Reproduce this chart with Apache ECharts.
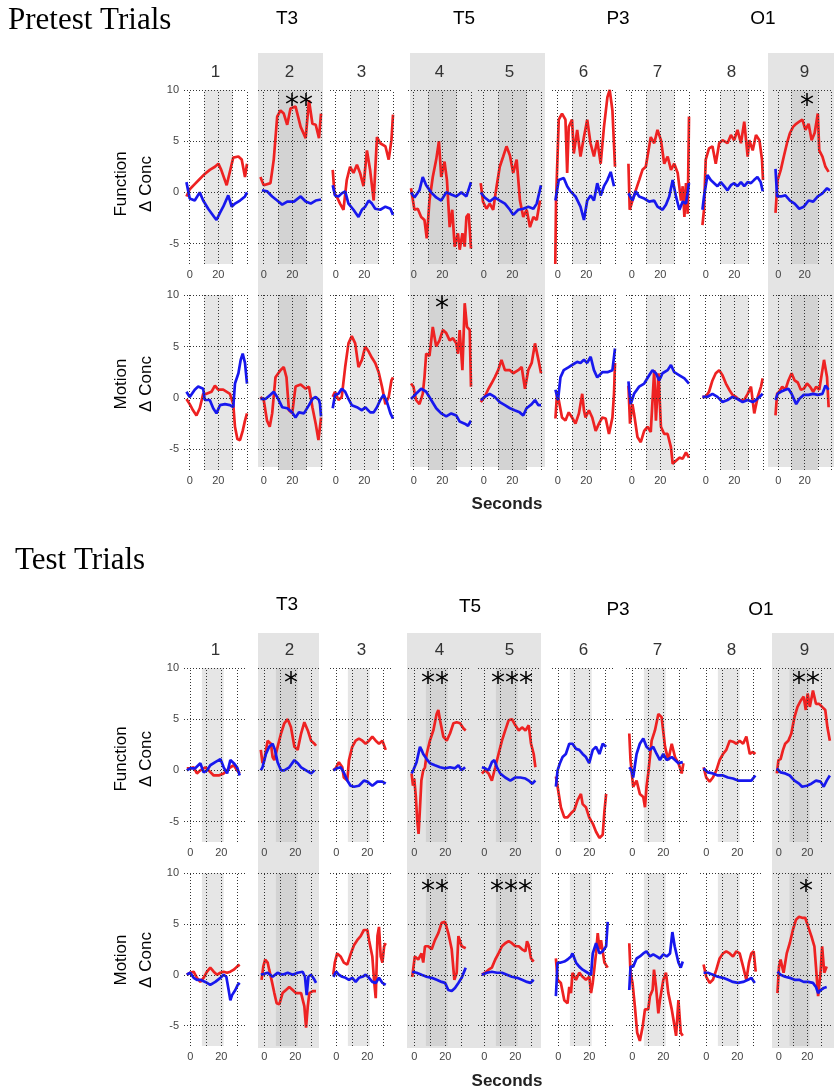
<!DOCTYPE html>
<html><head><meta charset="utf-8">
<script src="https://cdn.jsdelivr.net/npm/echarts@6/dist/echarts.min.js"></script>
<style>html,body{margin:0;padding:0;background:#fff}#c{width:834px;height:1091px}</style>
</head><body><div id="c"></div>
<script>
// ---------- categories / labels ----------
const CHANNELS = ['1','2','3','4','5','6','7','8','9'];
const GROUP_LABELS = ['T3','T5','P3','O1'];
const SECTION_TITLES = ['Pretest Trials','Test Trials'];
const ROW_NAMES = [['Function','\u0394 Conc'],['Motion','\u0394 Conc']];
const X_AXIS_NAME = 'Seconds';
const X_LABELS = [0, 20];
const Y_LABELS = [-5, 0, 5, 10];
const Y_MIN = -7, Y_MAX = 10;
const PRE_X = [-4, 40], TEST_X = [-4, 36.5];
const PRE_VGRID = [0, 10, 20, 30, 40], TEST_VGRID = [0, 10, 20, 30];
const SHADE_PRE = [10, 30], SHADE_TEST = [7.5, 21.5];
const HIGHLIGHT_COLS = [1, 3, 4, 8];
// significance marks: [row, col, text]
const SIGNIF = [[0,1,'**'],[0,8,'*'],[1,3,'*'],[2,1,'*'],[2,3,'**'],[2,4,'***'],[2,8,'**'],[3,3,'**'],[3,4,'***'],[3,8,'*']];

// ---------- series values [seconds, delta conc] ----------
const PRE_FUNC_RED = [
 [[-2.3,-0.4],[0,0.3],[3.5,0.8],[7,1.3],[10.5,1.8],[14,2.2],[17.6,2.5],[20,2.8],[22,2.2],[25.8,0.7],[30.4,3.4],[34,3.5],[36.3,3.2],[38.6,1.5],[40,2.8]],
 [[-2.3,1.5],[0,0.7],[4.7,0.9],[7,3.2],[9.4,7.4],[11.7,8],[14,7.7],[16.4,6.6],[18.7,8.2],[22.2,8.4],[25.8,6.4],[29.3,5.3],[31.6,9],[34,6.7],[36.3,6.6],[38.6,5.3],[40,7.7]],
 [[-2.1,2.2],[-0.9,-0.1],[0.7,-0.4],[3,-1.1],[5.4,-1.7],[7.7,1.2],[10,2.5],[12.4,1.9],[14.8,2.7],[17,1.9],[19.4,0.6],[21.8,4.1],[24,2.2],[26.5,-0.8],[28.8,5.4],[31.1,4.8],[34.7,4.5],[37,3.2],[38.9,5.1],[40,7.6]],
 [[-1.9,0.4],[0.5,-1.7],[2.8,-1.6],[5.2,-2.4],[7.5,-2.7],[9.1,-4.5],[11,-0.8],[13.3,1.5],[15.7,3.2],[17.6,5],[19.2,1.5],[21.5,3],[23.2,1.2],[25.1,-3.4],[26.9,-1.7],[28.6,-5.3],[30.9,-4],[32.1,-5.6],[34,-4],[35.6,-5.3],[36.8,-2.4],[38.4,-2.1],[40,-5.5]],
 [[-2.1,0.9],[-0.5,-0.9],[1.9,-1.6],[4.2,-1.1],[6.6,-1.7],[8.9,0.5],[11.2,2.5],[13.6,3.5],[15.9,4.5],[18.3,3.6],[20.6,1.9],[23,3.2],[25.3,-0.8],[27.6,-2.4],[30,-1.7],[32.3,-3.4],[34.7,-2.4],[37,-2.7],[39.3,-0.8]],
 [[-1.7,-7],[-1.2,-1],[0.7,7.1],[3,7.7],[5.4,7.1],[6.6,1.9],[7.7,6.4],[10,7.1],[11.2,3.8],[13.6,6.1],[15.9,3.5],[18.3,5.4],[20.6,7.1],[22.9,4.8],[25.3,3.5],[27.6,5.1],[30,2.8],[32.3,6.4],[34.7,9.3],[36.3,10],[38.2,8],[40,2.5]],
 [[-2.3,2.8],[-1.4,-1.7],[0.5,-0.8],[2.8,0.2],[5.2,1.2],[7.5,2.2],[9.8,2.5],[11,3.5],[13.3,5.4],[15.7,4.8],[18,6.1],[20.4,5.1],[22.7,2.8],[25.1,3.5],[27.4,2.2],[29.7,2.8],[32.1,1.9],[34.4,-0.8],[35.6,0.6],[36.8,-2.4],[37.9,0.9],[39.1,-2.1],[40,7.4]],
 [[-2.3,-3.2],[-1.2,-1.7],[0,3.2],[2.3,4.3],[4.7,4.5],[7,2.8],[9.4,4.8],[11.7,5.1],[15.2,4.8],[17.6,5.6],[19.9,5.1],[22.2,6.1],[24.6,4.8],[26.9,6.9],[29.3,3.5],[30.4,5.1],[32.8,4.1],[35.1,5.6],[37.5,5.1],[39.3,3.2],[40,1.2]],
 [[-2.1,-2],[-0.5,1.2],[1.9,2.2],[4.2,3.5],[6.6,4.8],[8.9,5.8],[11.2,6.4],[13.6,6.7],[15.9,6.9],[18.3,7.1],[20.6,6.1],[23,6.7],[25.3,5.1],[27.6,5.8],[30,7.7],[31.1,4.1],[33.5,3.5],[35.8,2.5],[38.2,2.0]]
];
const PRE_FUNC_BLUE = [
 [[-2.3,1.0],[0,-0.6],[3.5,-0.8],[7,0],[9.4,-0.8],[12.9,-1.6],[17.6,-2.5],[18.7,-2.7],[21.1,-2],[23.4,-1.4],[26.9,-0.3],[29.3,-1.4],[31.6,-1.1],[35.1,-0.8],[38.6,-0.4],[40,0]],
 [[-1.2,0.2],[2.3,0.1],[5.9,-0.4],[9.4,-0.8],[12.9,-1.2],[16.4,-0.9],[21.1,-0.9],[25.8,-0.4],[29.3,-0.9],[32.8,-1.1],[36.3,-0.8],[40,-0.7]],
 [[-2.1,0.7],[-0.5,-0.3],[1.9,-0.4],[4.2,-0.1],[6.6,0.1],[8.9,-1.1],[12.4,-1.7],[15.9,-2.4],[18.3,-1.7],[20.6,-1.4],[23,-0.8],[25.3,-1.1],[27.6,-1.6],[31.1,-1.7],[34.7,-1.4],[38.2,-1.6],[40,-2.2]],
 [[-1.9,0],[0.5,-0.5],[4,0.2],[6.3,1.5],[8.7,0.7],[12.2,0],[15.7,-0.5],[19.2,-0.8],[22.7,0],[26.2,-0.2],[29.7,-0.4],[33.3,0],[36.8,-0.4],[40,1.0]],
 [[-2.1,0],[0.7,-0.5],[4.2,-0.9],[7.7,-0.5],[11.2,-0.8],[14.8,-1.1],[18.3,-1.7],[20.6,-2.2],[24.1,-1.7],[27.6,-1.6],[31.1,-1.4],[34.7,-1.6],[37,-1.1],[40,0.7]],
 [[-1.6,-0.8],[0.7,1.2],[4.2,1.4],[6.6,0.6],[8.9,0.1],[12.4,-0.4],[15.9,-1.4],[18.3,-2.7],[20.6,-0.8],[23,-0.3],[25.3,-0.8],[27.6,0.9],[30,-0.3],[32.3,0.6],[34.7,1.2],[37,2.0],[39.3,0.6]],
 [[-2.3,-0.1],[0.5,-0.8],[2.8,0.1],[5.2,-0.4],[8.7,-0.6],[12.2,-0.9],[15.7,-0.8],[18,-1.4],[21.5,-1.7],[23.9,-1.2],[26.2,-0.4],[28.6,1.2],[30.9,-0.4],[33.3,-1.7],[35.6,-0.9],[37.9,-1.1],[40,0.9]],
 [[-2.3,-1.7],[-1.2,-0.4],[1.2,1.7],[3.5,1.2],[5.9,0.9],[8.2,0.6],[10.5,1.0],[12.9,0.6],[15.2,0.2],[17.6,0.7],[19.9,0.9],[22.2,0.6],[24.6,1.0],[26.9,0.6],[29.3,1.0],[31.6,0.9],[33.7,1.2],[36.1,1.5],[38.4,1.0],[39.8,0.1]],
 [[-2.1,2.3],[-0.9,-0.4],[1.9,-0.4],[5.4,-0.3],[8.9,-0.8],[12.4,-1.1],[15.9,-1.6],[19.4,-1.4],[23,-0.8],[26.5,-0.9],[30,-0.4],[33.5,-0.1],[37,0.4],[39.3,0.2]]
];
const PRE_MOT_RED = [
 [[-2.3,-0.1],[0,-0.6],[2.3,-1.2],[4.7,-1.7],[7,-1.0],[9.4,0.4],[11.7,0.4],[15.2,0.6],[17.6,1.2],[19.9,0.8],[23.4,0.8],[28.1,0.4],[30.4,-0.6],[31.6,-2.8],[33.3,-4],[35.1,-4.1],[37,-3.2],[38.6,-2.2],[40,-1.5]],
 [[-2.3,0.1],[0,-0.2],[2.3,-2.2],[4.2,-2.8],[5.9,-1.5],[8.2,2.0],[11.7,2.7],[14,3.0],[15.9,2.0],[17.6,-1.2],[19.9,-1.5],[22.2,1.1],[25.8,1.3],[29.3,0.9],[31.6,1.1],[34,-0.9],[36.3,-2.5],[38.2,-4.1],[39.8,-2.2],[40,-1.9]],
 [[-2.1,0.1],[-0.5,0.6],[1.9,-0.2],[4.2,0.1],[6.6,3.0],[8.9,5.3],[11.2,6.0],[13.6,5.3],[15.9,3.0],[18.3,3.7],[20.6,5.0],[23,4.5],[25.3,3.9],[27.6,3.4],[30,2.5],[32.3,1.1],[34.7,-0.6],[37,0.1],[38.9,1.7],[40,2.0]],
 [[-1.9,1.4],[-0.2,1.1],[1.6,-0.2],[4,-0.6],[6.3,0.4],[7.5,2.0],[8.7,4.3],[11,4.1],[13.3,6.9],[15.7,5.0],[18,5.6],[20.4,6.6],[22.7,6.3],[25.1,5.6],[27.4,5.8],[29.7,5.3],[30.9,4.3],[32.1,6.6],[34,2.7],[35.6,9.2],[37.2,6.9],[39.1,6.6],[40,1.1]],
 [[-2.1,-0.4],[0.7,0.1],[3,0.8],[5.4,1.4],[7.7,2.0],[10.1,2.7],[12.4,3.7],[14.8,2.7],[18.3,2.7],[20.6,2.4],[24.1,2.7],[26.5,3.0],[28.8,0.9],[31.1,2.7],[33.5,3.4],[35.8,5.3],[38.2,3.7],[40,2.4]],
 [[-1.6,-2.0],[-0.5,0.4],[0.7,-0.2],[3,-1.9],[5.4,-2.2],[7.7,-1.4],[10,-1.9],[12.4,-2.5],[14.8,-1.5],[17.1,0.4],[18.3,-1.2],[19.4,-1.9],[21.8,-1.2],[24.1,-1.9],[26.5,-3.2],[28.8,-2.5],[31.1,-1.9],[33.5,-2.0],[35.8,-3.5],[38.2,-1.9],[39.3,0.4],[40,3.4]],
 [[-2.3,1.2],[-1.2,-2.5],[0.5,-0.6],[1.6,-1.5],[4,-3.8],[6.3,-4.3],[8.7,-3.2],[11,-2.8],[13.3,-3.3],[15.7,2.7],[16.9,-2.2],[18.7,2.4],[20.4,-2.8],[22.7,-3.5],[25.1,-3.5],[27.4,-4.8],[28.6,-6.4],[30.9,-6.1],[33.3,-5.8],[35.6,-5.9],[37.9,-5.3],[40,-5.8]],
 [[-2.3,0.1],[0,0.1],[2.3,0.6],[4.7,1.7],[7,2.4],[9.4,2.7],[11.7,2.2],[14.1,1.4],[16.4,0.8],[18.7,0.3],[21.1,0.1],[23.4,-0.2],[26.9,-0.2],[29.3,0.4],[31.6,1.1],[33.9,-1.5],[36.3,0.1],[38.6,1.1],[39.8,1.9]],
 [[-2.1,-1.7],[-0.9,0.4],[0.7,0.6],[3,1.1],[5.4,0.8],[7.7,1.7],[10.1,2.4],[12.4,1.7],[14.8,1.5],[17.1,0.8],[19.4,0.9],[21.8,1.4],[24.1,1.1],[26.5,0.6],[28.8,1.1],[31.1,0.8],[34.7,3.7],[37,2.0],[38.2,-0.9]]
];
const PRE_MOT_BLUE = [
 [[-2.3,0.6],[0,0.1],[3.5,0.8],[5.9,1.1],[9.4,0.9],[10.5,-0.2],[14,-0.2],[16.4,-1.0],[18.7,-1.5],[21.1,-0.7],[24.6,-0.6],[28.1,-0.7],[30.4,-0.9],[31.6,1.4],[34,2.4],[35.6,3.7],[37,4.3],[38.6,3.4],[40,1.4]],
 [[-2.3,-0.1],[1.2,-0.1],[4.7,0.3],[7,0.6],[9.4,0.1],[12.9,-0.9],[16.4,-1.0],[19.9,-1.4],[22.2,-1.9],[24.6,-1.4],[28.1,-1.5],[31.6,-0.7],[34,-0.1],[36.3,0.1],[38.6,-0.2],[39.3,-0.6],[40,-1.8]],
 [[-2.1,-1.0],[-0.5,0.3],[1.9,0.4],[4.2,0.9],[6.6,0.6],[8.9,-0.1],[11.2,-0.7],[14.8,-0.9],[18.3,-1.2],[20.6,-0.9],[24.1,-1.4],[26.5,-1.4],[28.8,-0.9],[31.1,-0.2],[33.5,0.3],[35.8,-0.4],[38.2,-1.5],[40,-2.0]],
 [[-1.9,-0.1],[1.6,0.4],[5.2,0.9],[8.7,0.6],[12.2,-0.2],[15.7,-1.0],[19.2,-1.5],[22.7,-1.8],[26.2,-1.5],[29.7,-1.7],[32.1,-2.3],[35.6,-2.5],[37.9,-2.7],[40,-2.2]],
 [[-2.1,-0.2],[0.7,0.1],[4.2,0.4],[7.7,0.1],[11.2,-0.4],[14.8,-0.7],[18.3,-1.0],[21.5,-1.2],[25.1,-1.4],[27.6,-1.7],[29.9,-1.0],[33.5,-0.6],[35.8,-0.2],[38.2,-0.7],[40,-0.7]],
 [[-1.6,0.8],[0.2,-0.2],[1.9,2.0],[4.2,2.7],[7.7,3.0],[10,3.2],[13.6,3.5],[15.9,3.4],[18.3,3.7],[20.6,3.4],[23,4.0],[25.3,2.7],[27.6,2.0],[31.1,2.5],[34.7,2.5],[38.2,2.7],[40,4.8]],
 [[-2.3,1.6],[-0.7,-0.6],[1.6,0.4],[5.2,1.1],[8.7,1.4],[12.2,2.2],[14.5,2.7],[16.9,2.4],[19.2,1.7],[21.5,2.4],[25.1,2.7],[27.4,3.2],[29.7,2.5],[33.3,2.2],[36.8,1.9],[40,1.4]],
 [[-2.3,0.1],[1.2,0.1],[4.7,0.4],[8.2,0.1],[11.7,-0.4],[15.2,-0.2],[18.7,0.1],[22.2,-0.1],[25.8,-0.4],[29.3,-0.2],[32.8,-0.4],[35.1,-0.2],[37.5,0.1],[39.8,0.4]],
 [[-2.1,-0.2],[-0.5,0.4],[1.9,0.6],[5.4,0.8],[7.7,0.9],[10.1,0.4],[13.6,-0.6],[15.9,-0.1],[19.4,0.3],[22.9,0.3],[26.5,0.4],[30,0.3],[33.5,0.4],[35.8,1.2],[38.2,0.8]]
];
const TEST_FUNC_RED = [
 [[-2.2,0.2],[0,0.2],[2.2,0.3],[4.3,-0.3],[6.5,0],[9.7,0.3],[11.8,0],[15.1,-0.5],[18.3,-0.5],[21.5,-0.3],[23.7,0],[25.8,0.3],[28,0.5],[30.1,0],[31.8,-0.3]],
 [[-2.2,2.0],[-1.1,0.7],[0,1.0],[2.2,2.9],[4.3,2.6],[5.4,1.3],[6.5,1.0],[8.6,2.3],[10.8,3.6],[12.9,4.6],[15.1,5.0],[17.2,4.2],[19.4,2.3],[21.5,2.0],[23.7,3.6],[25.8,4.7],[28,3.9],[30.1,2.9],[32.3,2.6],[33.3,2.4]],
 [[-1.9,0],[-0.4,0.2],[1.7,0.8],[3.9,0.3],[4.9,-0.7],[7.1,-1.0],[8.2,1.0],[10.3,2.3],[12.5,2.9],[14.6,3.1],[16.8,2.9],[18.9,2.6],[21.1,2.9],[23.2,3.3],[25.4,2.9],[27.5,2.6],[29.7,2.9],[31.8,2.0]],
 [[-1.7,-0.3],[-0.8,-1.5],[0,-0.8],[1,-2.5],[2,-5],[2.8,-6.2],[3.6,-4],[4.6,-1],[5.8,0],[6.9,0.3],[8,1.6],[10.1,2.9],[12.3,3.9],[14.4,5.5],[15.5,5.9],[16.6,4.9],[18.7,3.3],[20.9,2.9],[23,3.6],[25.2,4.6],[27.3,4.7],[29.5,4.6],[31.6,4.1],[33.1,3.9]],
 [[-1.5,-0.3],[0.6,0],[2.8,-0.3],[4.9,-1.0],[7.1,0.3],[9.2,1.6],[11.4,2.9],[13.5,3.9],[15.7,4.9],[17.8,5.0],[20,4.4],[22.2,3.9],[24.3,4.2],[26.5,3.9],[28.6,4.4],[30.1,2.6],[31.8,1.6],[32.9,0.3]],
 [[-1.5,-0.6],[-0.4,-1.6],[1.7,-3.6],[3.9,-4.6],[6,-4.6],[8.2,-4.2],[10.3,-3.9],[12.5,-2.9],[14.6,-2.3],[15.7,-3.3],[17.8,-3.6],[19.9,-4.6],[22.2,-5.2],[24.3,-6.0],[26.5,-6.6],[28.6,-6.3],[29.7,-4.0],[30.8,-2.3]],
 [[-1.9,3.6],[-1.1,1.0],[0.6,-1.6],[2.8,-1.0],[4.9,-2.3],[7.1,-2.6],[8.2,-3.6],[9.2,-1.6],[10.3,-0.3],[12.5,2.9],[14.6,3.9],[16.8,5.5],[18.9,5.2],[21.1,2.3],[23.2,1.0],[25.4,2.6],[27.5,1.3],[29.7,0.7],[31.8,-0.3],[32.9,0.7]],
 [[-1.7,0.3],[0,-0.7],[2.2,-1.1],[4.3,-0.7],[6.5,0],[8.6,1.0],[10.8,1.6],[12.9,2.0],[15.1,2.9],[17.2,2.8],[19.4,2.6],[21.5,2.9],[23.7,2.6],[25.8,3.3],[28,1.6],[30.1,1.8],[31.6,1.6]],
 [[-1.3,-0.3],[-0.2,1.0],[1.3,1.1],[3,2.0],[4.5,2.6],[6.7,2.9],[8.8,3.6],[11,5.2],[13.1,6.2],[15.3,6.8],[17.4,7.2],[18.9,5.9],[20.2,7.5],[21.7,6.2],[23.9,7.8],[26,6.5],[28.2,6.5],[30.3,6.2],[32.5,5.9],[34,4.2],[35.7,2.9]]
];
const TEST_FUNC_BLUE = [
 [[-2.2,0],[0,0.2],[3.2,0.2],[6.5,0.7],[8.6,-0.2],[10.8,0],[12.9,0.5],[16.1,0.8],[19.4,1.1],[21.5,0.3],[23.7,-0.3],[25.8,1.0],[28,0.7],[30.1,0.3],[31.8,-0.5]],
 [[-2.2,0],[-1.1,0.3],[1.1,1.6],[3.2,2.3],[5.4,2.6],[6.9,2.0],[8.6,0.8],[10.8,0],[12.9,0],[16.1,0.3],[19.4,1.0],[21.5,0.7],[23.7,0.3],[26.9,0],[30.1,-0.3],[32.3,0]],
 [[-1.9,0],[0.6,0.2],[2.8,0.3],[4.9,-0.2],[7.1,-1.0],[9.2,-1.5],[11.4,-1.6],[14.6,-1.5],[17.8,-1.0],[20,-1.1],[23.2,-1.5],[26.5,-1.1],[29.7,-1.1],[31.8,-1.3]],
 [[-1.7,-0.3],[-0.6,0],[1.5,0.8],[3.7,2.3],[4.7,2.0],[5.8,1.6],[8,1.1],[10.1,0.7],[13.3,0.5],[16.6,0.3],[19.8,0.2],[23,0.3],[26.2,0.2],[28.4,0.5],[30.5,0],[32.7,0.3]],
 [[-1.5,0.3],[0.6,0.2],[2.8,0],[4.9,0.8],[6.5,1.0],[8.2,0.3],[10.3,-0.3],[13.5,-0.7],[16.8,-1.0],[20,-0.7],[23.2,-0.7],[26.5,-0.8],[28.6,-1.0],[30.8,-1.3],[32.9,-1.0]],
 [[-1.5,-1.6],[-0.4,0],[1.1,0.7],[2.8,1.3],[4.9,1.6],[7.1,2.6],[9.2,2.6],[11.4,2.1],[13.5,2.0],[15.7,1.6],[17.8,1.3],[19.9,0.7],[22.2,2.0],[24.3,2.3],[26.5,1.6],[28.6,2.6],[30.8,2.3]],
 [[-1.9,0.3],[-0.4,0],[0.6,-0.7],[2.8,1.6],[4.9,2.6],[7.1,3.1],[9.2,2.3],[11.4,2.0],[13.5,2.3],[15.7,1.6],[17.8,1.0],[20,1.6],[22.2,1.0],[25.4,1.3],[27.5,1.0],[29.7,0.7],[32.5,0.8]],
 [[-1.7,0.2],[1.1,-0.2],[4.3,-0.3],[7.5,-0.5],[10.8,-0.5],[14,-0.7],[17.2,-0.8],[20.4,-1.0],[23.7,-1.0],[26.9,-1.0],[29,-1.0],[31.6,-0.5]],
 [[-1.3,0.2],[1.3,-0.2],[4.5,-0.3],[7.7,-0.5],[11,-1.0],[14.2,-1.3],[16.3,-1.6],[19.6,-1.5],[22.8,-1.3],[26,-1.0],[29.2,-1.1],[31.4,-1.6],[33.5,-1.0],[35.7,-0.5]]
];
const TEST_MOT_RED = [
 [[-2.2,0],[0,0.2],[2.2,0.3],[4.3,-0.3],[6.5,-0.7],[8.6,-0.3],[10.8,0.3],[12.9,0.7],[15.1,0.3],[17.2,0],[19.4,0.2],[21.5,0.3],[23.7,0.2],[25.8,0.3],[28,0.5],[30.1,0.8],[31.8,1.0]],
 [[-1.7,-0.5],[-0.6,0.8],[0.6,1.5],[2.2,1.2],[3.2,0.5],[4.7,-0.5],[6.5,-1.8],[8,-2.8],[9.7,-2.9],[11.8,-1.8],[14,-1.5],[16.1,-1.2],[18.3,-1.5],[20.4,-1.8],[23.7,-1.8],[25.8,-3.1],[26.9,-5.2],[28,-3.1],[29,-1.8],[31.2,-1.6],[33.3,-1.6]],
 [[-1.9,0],[-0.9,1.2],[0.6,2.1],[2.8,1.8],[4.9,1.2],[7.1,1.0],[9.2,2.0],[11.4,2.9],[13.5,3.4],[15.7,3.8],[17.8,4.4],[20,4.4],[21.1,3.4],[23.2,1.8],[24.3,-0.5],[25.4,-2.3],[26.5,3.8],[27.5,4.7],[28.6,1.8],[29.7,1.2],[30.8,2.8],[31.8,3.1]],
 [[-1.3,-0.2],[0.4,1.8],[2.6,1.5],[4.7,2.1],[5.8,1.2],[6.9,2.8],[9,2.8],[11.2,2.5],[13.3,3.4],[15.5,4.1],[17.6,5.1],[19.8,5.2],[21.9,4.1],[24.1,2.5],[25.8,-0.5],[27.3,0.2],[28.4,3.8],[30.5,2.8],[33.1,2.6]],
 [[-1.5,0],[0.6,0.2],[2.8,0.5],[4.9,0.7],[7.1,1.5],[9.2,2.1],[11.4,2.8],[13.5,3.1],[15.7,3.3],[17.8,3.1],[20,2.8],[22.2,2.8],[24.3,2.5],[26.5,2.3],[27.5,3.3],[28.6,2.9],[30.1,1.6],[31.8,1.3]],
 [[-1.5,1.6],[-0.4,-0.5],[1.7,-0.8],[3.9,-2.5],[6,-2.8],[7.1,-1.2],[8.2,-1.8],[9.2,0.2],[11.4,-0.5],[13.5,0.2],[15.7,-0.2],[17.8,-0.5],[20,-0.2],[21.1,-1.8],[22.2,-0.8],[24.3,2.1],[25.4,4.1],[26.5,2.5],[27.5,3.4],[29.7,1.2],[31.8,0.7]],
 [[-1.9,3.1],[-1.1,0.2],[0.2,-0.8],[1.7,-3.1],[3.2,-5.7],[4.9,-6.5],[6.7,-5.1],[8.2,-3.4],[10.3,-3.4],[11.4,-2.1],[13.1,-1.5],[14,0.5],[15.3,-1.2],[16.8,-3.8],[17.8,-2.5],[20,-0.5],[21.7,0.2],[23.2,-1.8],[25.4,-3.4],[26.5,-4.4],[28.2,-6.0],[29.7,-2.5],[31.2,-5.7],[32.5,-6.0]],
 [[-1.7,1.0],[0,-0.2],[2.2,-0.8],[4.3,-0.5],[6.5,0.5],[8.6,1.6],[10.8,2.1],[12.9,2.3],[15.1,2.1],[17.2,1.8],[19.4,2.3],[21.5,2.1],[23.7,0.8],[25.8,-0.5],[27.5,1.2],[29,2.1],[30.5,2.3],[31.8,0.3]],
 [[-0.9,-1.8],[0.2,0.8],[1.3,1.5],[2.4,0.8],[3.4,0.2],[5.6,2.1],[7.7,3.1],[9.9,4.4],[12,5.4],[14.2,5.7],[16.3,5.6],[18.5,5.6],[20.6,4.7],[22.8,3.8],[24.9,2.8],[26,0.8],[27.5,-2.1],[29.2,0.2],[30.3,2.8],[31.8,0.2],[33.5,0.8]]
];
const TEST_MOT_BLUE = [
 [[-2.2,0],[0,0.2],[2.2,-0.3],[4.3,-0.5],[6.5,-0.5],[9.7,-0.7],[12.9,-1.0],[16.1,-0.7],[19.4,-0.3],[21.5,0],[23.2,-0.2],[24.7,-1.5],[25.8,-2.5],[26.9,-2.0],[29,-1.5],[30.5,-1.0],[31.8,-0.8]],
 [[-2.2,0],[2.2,0.2],[5.4,-0.2],[8.6,0.2],[11.8,0],[15.1,0.2],[18.3,0],[21.5,0.2],[24.7,0.3],[26.2,-0.2],[27.3,-2.0],[28.4,-0.2],[30.1,0],[32.3,-0.5],[33.3,-0.8]],
 [[-1.9,-0.2],[0,0.3],[1.7,0],[3.9,-0.2],[6,-0.3],[8.2,-0.5],[10.3,-0.3],[12.5,-0.7],[14.6,-0.3],[16.8,-0.2],[18.9,0],[21.1,-0.3],[23.2,-0.7],[25.4,-0.8],[27.5,-0.3],[29.7,-0.8],[31.8,-1.0]],
 [[-1.3,0.3],[1.5,0.2],[4.7,0],[8,-0.2],[11.2,-0.3],[14.4,-0.5],[17.6,-0.7],[19.8,-0.8],[21.9,-1.5],[24.1,-1.6],[26.2,-1.3],[28.4,-0.8],[30.5,-0.3],[33.1,0.7]],
 [[-1.5,0],[1.7,0.2],[4.9,0.3],[8.2,0.2],[11.4,0.2],[14.6,0],[17.8,-0.2],[21.1,-0.3],[24.3,-0.5],[27.5,-0.7],[29.7,-0.8],[31.8,-0.5]],
 [[-1.5,-2.1],[-0.4,1.2],[1.7,1.2],[3.9,1.3],[6,1.5],[8.2,1.8],[9.2,2.1],[11.4,1.2],[13.5,0.8],[15.7,0.5],[18.9,0.2],[21.1,0],[22.2,2.1],[24.3,3.1],[26.5,2.1],[28.6,2.3],[30.8,2.8],[31.8,5.2]],
 [[-1.9,-1.5],[-1.1,0.8],[0.6,0.8],[2.8,1.6],[4.9,1.8],[7.1,2.1],[9.2,2.3],[11.4,1.8],[13.5,2.0],[15.7,1.8],[17.8,1.6],[20,2.0],[22.2,1.8],[24.3,2.1],[25.8,4.2],[27.3,2.8],[29.7,1.2],[31.2,0.7],[32.5,1.3]],
 [[-1.7,0.2],[1.1,0.2],[4.3,0],[7.5,-0.2],[10.8,-0.3],[14,-0.5],[17.2,-0.7],[20.4,-0.8],[23.7,-0.7],[26.9,-0.5],[29,-0.3],[31.2,-0.8]],
 [[-0.9,0.3],[1.3,0],[4.5,-0.2],[7.7,-0.3],[11,-0.5],[14.2,-0.5],[17.4,-0.7],[20.6,-0.7],[23.9,-0.8],[26,-1.2],[27.5,-1.8],[29.2,-1.5],[31.4,-1.3],[33.5,-1.2]]
];

// ---------- layout (pixels) ----------
const FONT = '"Liberation Sans", Arial, sans-serif';
const SERIF = '"Liberation Serif", "Times New Roman", serif';
const COL_LEFT = [184, 258, 330, 408, 478, 552, 626, 700, 773];
const COL_W = 63;
const ROW_BOX = [{top:90,h:174},{top:295,h:175},{top:668,h:174},{top:873,h:173}];
const RED = '#ee2222', BLUE = '#1818ee';

const ROWDEFS = [
  {red: PRE_FUNC_RED, blue: PRE_FUNC_BLUE, x: PRE_X, vg: PRE_VGRID, shade: SHADE_PRE},
  {red: PRE_MOT_RED, blue: PRE_MOT_BLUE, x: PRE_X, vg: PRE_VGRID, shade: SHADE_PRE},
  {red: TEST_FUNC_RED, blue: TEST_FUNC_BLUE, x: TEST_X, vg: TEST_VGRID, shade: SHADE_TEST},
  {red: TEST_MOT_RED, blue: TEST_MOT_BLUE, x: TEST_X, vg: TEST_VGRID, shade: SHADE_TEST}
];

const grids = [], xAxes = [], yAxes = [], series = [];
ROWDEFS.forEach((rd, r) => {
  for (let c = 0; c < 9; c++) {
    const gi = grids.length;
    const hl = HIGHLIGHT_COLS.includes(c);
    grids.push({left: COL_LEFT[c], top: ROW_BOX[r].top, width: COL_W, height: ROW_BOX[r].h});
    xAxes.push({gridIndex: gi, type: 'value', min: rd.x[0], max: rd.x[1], interval: 1,
      axisLine: {show: false}, axisTick: {show: false}, splitLine: {show: false},
      axisLabel: {formatter: v => X_LABELS.includes(v) ? String(v) : '', color: '#444', fontSize: 11, margin: 5, fontFamily: FONT}});
    yAxes.push({gridIndex: gi, type: 'value', min: Y_MIN, max: Y_MAX, interval: 1,
      axisLine: {show: false}, axisTick: {show: false}, splitLine: {show: false},
      axisLabel: {show: c === 0, formatter: v => Y_LABELS.includes(v) ? String(v) : '', color: '#444', fontSize: 11, margin: 5, fontFamily: FONT}});
    series.push({type: 'line', xAxisIndex: gi, yAxisIndex: gi, data: [], silent: true, z: 1,
      markArea: {silent: true, itemStyle: {color: hl ? '#d3d3d3' : '#e6e6e6'}, data: [[{xAxis: rd.shade[0]}, {xAxis: rd.shade[1]}]]},
      markLine: {silent: true, symbol: ['none', 'none'], label: {show: false}, animation: false,
        lineStyle: {type: [1, 2], color: '#333', width: 1},
        data: [...rd.vg.map(v => ({xAxis: v})), ...Y_LABELS.map(v => ({yAxis: v}))]}
    });
    series.push({type: 'line', xAxisIndex: gi, yAxisIndex: gi, data: rd.red[c], showSymbol: false, silent: true, z: 3,
      lineStyle: {color: RED, width: 2.7}, itemStyle: {color: RED}});
    series.push({type: 'line', xAxisIndex: gi, yAxisIndex: gi, data: rd.blue[c], showSymbol: false, silent: true, z: 4,
      lineStyle: {color: BLUE, width: 2.7}, itemStyle: {color: BLUE}});
  }
});

// ---------- decorations ----------
const graphic = [];
const BANDS = [
  {y0: 53, y1: 467, spans: [[258, 323], [410, 545], [768, 834]]},
  {y0: 633, y1: 1048, spans: [[258, 319], [407, 541], [772, 834]]}
];
BANDS.forEach(b => b.spans.forEach(s => graphic.push({type: 'rect', z: -10, silent: true,
  shape: {x: s[0], y: b.y0, width: s[1] - s[0], height: b.y1 - b.y0}, style: {fill: '#e4e4e4'}})));

function txt(x, y, text, size, opts) {
  opts = opts || {};
  graphic.push({type: 'text', x: x, y: y, rotation: opts.rot || 0, z: 100, silent: true,
    style: {text: text, fontSize: size, fontFamily: opts.family || FONT, fontWeight: opts.weight || 'normal',
      fill: opts.fill || '#000', align: opts.align || 'center', verticalAlign: 'middle'}});
}
// section titles (y = visual centre)
txt(8, 21, SECTION_TITLES[0], 31, {family: SERIF, align: 'left'});
txt(15, 561, SECTION_TITLES[1], 31, {family: SERIF, align: 'left'});
// channel groups
const GROUP_POS = [[[287,19],[464,19],[618,19],[763,19]], [[287,605],[470,607],[618,610],[761,610]]];
GROUP_POS.forEach(sec => sec.forEach((p, i) => txt(p[0], p[1], GROUP_LABELS[i], 19)));
// column numbers
[72, 650].forEach(cy => CHANNELS.forEach((ch, c) => txt(COL_LEFT[c] + COL_W / 2, cy, ch, 17, {fill: '#333'})));
// row titles
const ROW_CY = [184, 384, 759, 960];
ROW_CY.forEach((cy, r) => {
  const names = ROW_NAMES[r % 2];
  txt(121, cy, names[0], 17, {rot: Math.PI / 2});
  txt(146, cy, names[1], 17, {rot: Math.PI / 2});
});
// x axis names
txt(507, 504, X_AXIS_NAME, 17, {weight: 'bold', fill: '#222'});
txt(507, 1081, X_AXIS_NAME, 17, {weight: 'bold', fill: '#222'});
// significance asterisks
const SIG_DX = {'0,1': 41, '0,8': 34, '1,3': 34, '2,1': 33, '2,3': 27, '2,4': 34, '2,8': 33, '3,3': 27, '3,4': 33, '3,8': 33};
const SIG_CY = [100, 303, 678, 886];
SIGNIF.forEach(([r, c, t]) => {
  txt(COL_LEFT[c] + SIG_DX[r + ',' + c], SIG_CY[r] + 7, t, 28, {family: '"DejaVu Sans", sans-serif'});
});

const chart = echarts.init(document.getElementById('c'), null, {renderer: 'canvas'});
chart.setOption({
  animation: false,
  backgroundColor: '#fff',
  grid: grids, xAxis: xAxes, yAxis: yAxes, series: series, graphic: graphic
});
</script>
</body></html>
